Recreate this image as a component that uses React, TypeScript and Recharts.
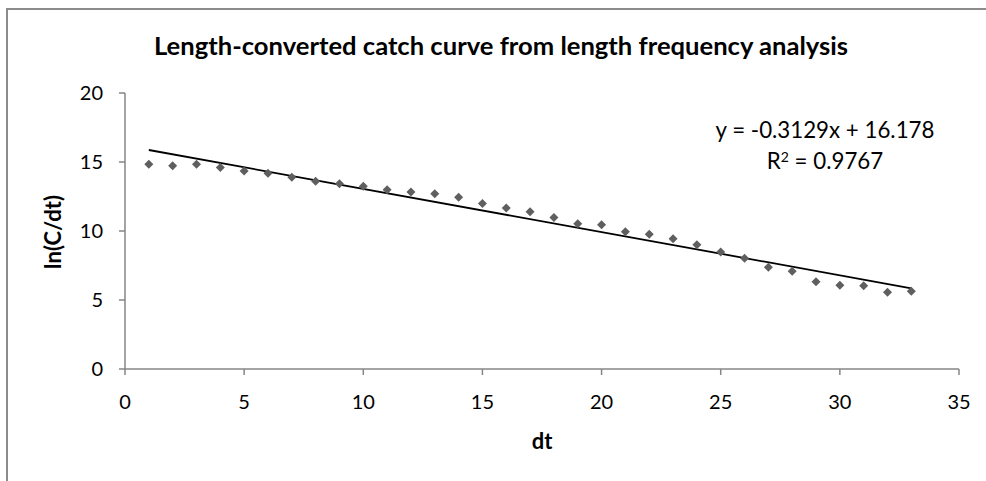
import { Scatter, ScatterChart, XAxis, YAxis } from "recharts";

const dtValues = [
  1, 2, 3, 4, 5, 6, 7, 8, 9, 10, 11, 12, 13, 14, 15, 16, 17, 18, 19, 20, 21,
  22, 23, 24, 25, 26, 27, 28, 29, 30, 31, 32, 33,
];
const lnValues = [
  14.83, 14.73, 14.83, 14.6, 14.35, 14.18, 13.89, 13.6, 13.43, 13.24, 12.99,
  12.83, 12.7, 12.44, 12.0, 11.67, 11.4, 10.97, 10.53, 10.46, 9.95, 9.76,
  9.44, 9.0, 8.48, 8.02, 7.37, 7.08, 6.33, 6.07, 6.04, 5.56, 5.63,
];
// linear trendline endpoints (y = -0.3129x + 16.178)
const trendX = [1, 33];
const trendY = [15.87, 5.85];

const xTicks = [0, 5, 10, 15, 20, 25, 30, 35];
const yTicks = [0, 5, 10, 15, 20];

const points = dtValues.map((x, i) => ({ x, y: lnValues[i] }));
const trend = trendX.map((x, i) => ({ x, y: trendY[i] }));

const font = "Lato, 'Open Sans', sans-serif";

function Diamond(props: any) {
  const { cx, cy } = props;
  if (cx == null || cy == null) return null;
  const r = 4.5;
  return (
    <polygon
      points={`${cx},${cy - r} ${cx + r},${cy} ${cx},${cy + r} ${cx - r},${cy}`}
      fill="#5f5f5f"
    />
  );
}

export default function App() {
  return (
    <div
      style={{
        position: "absolute",
        left: 0,
        top: 0,
        width: 986,
        height: 481,
        background: "#fff",
        fontFamily: font,
        overflow: "hidden",
      }}
    >
      <div
        style={{
          position: "absolute",
          left: 6,
          top: 8,
          width: 1000,
          height: 500,
          borderTop: "2px solid #8c8c8c",
          borderLeft: "2px solid #8c8c8c",
        }}
      />
      <div
        style={{
          position: "absolute",
          left: 501,
          top: 33,
          transform: "translateX(-50%)",
          whiteSpace: "nowrap",
          fontSize: 25.6,
          lineHeight: "25px",
          fontWeight: 700,
          color: "#000",
        }}
      >
        Length-converted catch curve from length frequency analysis
      </div>
      <ScatterChart
        width={986}
        height={481}
        margin={{ top: 93, right: 27, bottom: 52, left: 0 }}
        style={{ position: "absolute", left: 0, top: 0 }}
      >
        <XAxis
          type="number"
          dataKey="x"
          domain={[0, 35]}
          ticks={xTicks}
          height={60}
          tickSize={6}
          tickMargin={20}
          stroke="#868686"
          strokeWidth={1.5}
          tick={{ fill: "#000", fontSize: 20, fontFamily: font }}
        />
        <YAxis
          type="number"
          dataKey="y"
          domain={[0, 20]}
          ticks={yTicks}
          width={125}
          tickSize={6}
          tickMargin={16}
          stroke="#868686"
          strokeWidth={1.5}
          tick={{ fill: "#000", fontSize: 20, fontFamily: font }}
        />
        <Scatter
          data={trend}
          line={{ stroke: "#000", strokeWidth: 1.8 }}
          shape={() => null}
          isAnimationActive={false}
        />
        <Scatter data={points} shape={Diamond} isAnimationActive={false} />
      </ScatterChart>
      <div
        style={{
          position: "absolute",
          left: 52,
          top: 232,
          transform: "translate(-50%, -50%) rotate(-90deg)",
          fontSize: 22,
          fontWeight: 700,
          whiteSpace: "nowrap",
        }}
      >
        ln(C/dt)
      </div>
      <div
        style={{
          position: "absolute",
          left: 542,
          top: 440,
          transform: "translate(-50%, -50%)",
          fontSize: 22,
          fontWeight: 700,
        }}
      >
        dt
      </div>
      <div
        style={{
          position: "absolute",
          left: 825,
          top: 145,
          transform: "translate(-50%, -50%)",
          fontSize: 22.3,
          lineHeight: "31px",
          textAlign: "center",
          whiteSpace: "nowrap",
        }}
      >
        <div>y = -0.3129x + 16.178</div>
        <div>
          R<sup style={{ fontSize: 14, verticalAlign: "7px", lineHeight: 0 }}>2</sup> = 0.9767
        </div>
      </div>
    </div>
  );
}
